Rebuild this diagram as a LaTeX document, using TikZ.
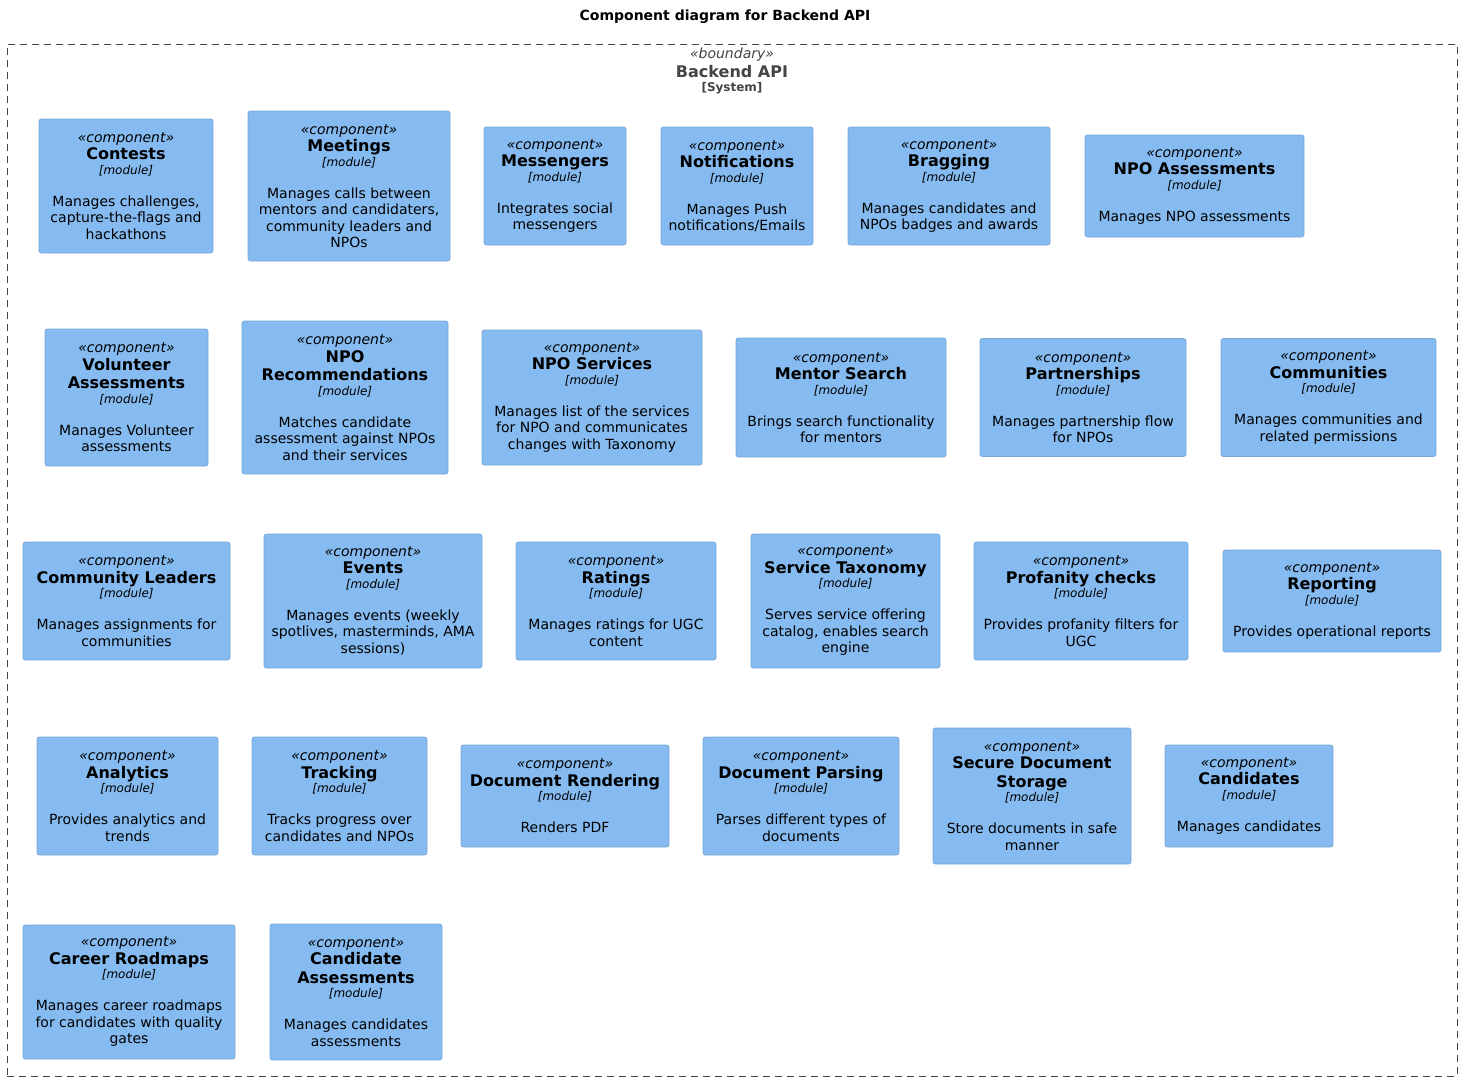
\documentclass[tikz,border=0pt]{standalone}
\usepackage{fontspec}
\setmainfont{DejaVu Sans}
\usetikzlibrary{positioning}

\definecolor{compfill}{HTML}{85BBF0}
\definecolor{compline}{HTML}{78A8D8}
\definecolor{boundgray}{HTML}{444444}

% fonts of the lines in a component box
\newcommand{\cstereo}{\fontsize{14}{16.5}\selectfont\itshape}
\newcommand{\cname}{\fontsize{16}{16.5}\selectfont\bfseries}
\newcommand{\cmodule}{\fontsize{12}{16.5}\selectfont\itshape}
% text of one component box: name, description
\newcommand{\comptext}[2]{\cstereo «component»\\[1pt]\cname #1\\[-2pt]\cmodule [module]\\[15.5pt]#2}

\begin{document}
\begin{tikzpicture}[
    x=1pt, y=-1pt,
    comp/.style={draw=compline, fill=compfill, rounded corners=2.5pt,
        align=center, inner sep=0pt, line width=0.8pt,
        font=\fontsize{14}{16.5}\selectfont},
    boundary/.style={draw=boundgray, dash pattern=on 7pt off 5pt, line width=0.9pt},
    boundlabel/.style={text=boundgray, align=center, inner sep=0pt,
        font=\fontsize{14}{16.5}\selectfont}
]
    \useasboundingbox (0,0) rectangle (1462,1081);

    \node[font=\fontsize{14}{16}\selectfont\bfseries] (title) at (725,17) {Component diagram for Backend API};

    \node[boundary, minimum width=1450, minimum height=1032] (api) at (732,560) {};
    \node[boundlabel] (apilabel) at (732,71) {%
        \itshape «boundary»\\[2pt]
        \fontsize{16}{16.5}\selectfont\bfseries Backend API\\[-2.5pt]
        \fontsize{12}{16}\selectfont\bfseries [System]};

    % first row
    \node[comp, minimum width=174, minimum height=134] (contests) at (126,186)
        {\comptext{Contests}{Manages challenges,\\capture-the-flags and\\hackathons}};
    \node[comp, minimum width=202, minimum height=150] (meetings) at (349,186)
        {\comptext{Meetings}{Manages calls between\\mentors and candidaters,\\community leaders and\\NPOs}};
    \node[comp, minimum width=142, minimum height=118] (messengers) at (555,186)
        {\comptext{Messengers}{Integrates social\\messengers}};
    \node[comp, minimum width=152, minimum height=118] (notifications) at (737,186)
        {\comptext{Notifications}{Manages Push\\notifications/Emails}};
    \node[comp, minimum width=202, minimum height=118] (bragging) at (949,186)
        {\comptext{Bragging}{Manages candidates and\\NPOs badges and awards}};
    \node[comp, minimum width=219, minimum height=102] (npoassessments) at (1194.5,186)
        {\comptext{NPO Assessments}{Manages NPO assessments}};

    % second row
    \node[comp, minimum width=163, minimum height=137] (volunteer) at (126.5,397.5)
        {\comptext{Volunteer\\[2pt]\cname Assessments}{Manages Volunteer\\assessments}};
    \node[comp, minimum width=206, minimum height=153] (recommendations) at (345,397.5)
        {\comptext{NPO\\[2pt]\cname Recommendations}{Matches candidate\\assessment against NPOs\\and their services}};
    \node[comp, minimum width=220, minimum height=135] (nposervices) at (592,397.5)
        {\comptext{NPO Services}{Manages list of the services\\for NPO and communicates\\changes with Taxonomy}};
    \node[comp, minimum width=210, minimum height=119] (mentorsearch) at (841,397.5)
        {\comptext{Mentor Search}{Brings search functionality\\for mentors}};
    \node[comp, minimum width=206, minimum height=118] (partnerships) at (1083,397.5)
        {\comptext{Partnerships}{Manages partnership flow\\for NPOs}};
    \node[comp, minimum width=215, minimum height=118] (communities) at (1328.5,397.5)
        {\comptext{Communities}{Manages communities and\\related permissions}};

    % third row
    \node[comp, minimum width=207, minimum height=118] (leaders) at (126.5,601)
        {\comptext{Community Leaders}{Manages assignments for\\communities}};
    \node[comp, minimum width=218, minimum height=134] (events) at (373,601)
        {\comptext{Events}{Manages events (weekly\\spotlives, masterminds, AMA\\sessions)}};
    \node[comp, minimum width=200, minimum height=118] (ratings) at (616,601)
        {\comptext{Ratings}{Manages ratings for UGC\\content}};
    \node[comp, minimum width=189, minimum height=134] (taxonomy) at (845.5,601)
        {\comptext{Service Taxonomy}{Serves service offering\\catalog, enables search\\engine}};
    \node[comp, minimum width=214, minimum height=118] (profanity) at (1081,601)
        {\comptext{Profanity checks}{Provides profanity filters for\\UGC}};
    \node[comp, minimum width=218, minimum height=102] (reporting) at (1332,601)
        {\comptext{Reporting}{Provides operational reports}};

    % fourth row
    \node[comp, minimum width=181, minimum height=118] (analytics) at (127.5,796)
        {\comptext{Analytics}{Provides analytics and\\trends}};
    \node[comp, minimum width=175, minimum height=118] (tracking) at (339.5,796)
        {\comptext{Tracking}{Tracks progress over\\candidates and NPOs}};
    \node[comp, minimum width=208, minimum height=102] (rendering) at (565,796)
        {\comptext{Document Rendering}{Renders PDF}};
    \node[comp, minimum width=196, minimum height=118] (parsing) at (801,796)
        {\comptext{Document Parsing}{Parses different types of\\documents}};
    \node[comp, minimum width=198, minimum height=136] (storage) at (1032,796)
        {\comptext{Secure Document\\[2pt]\cname Storage}{Store documents in safe\\manner}};
    \node[comp, minimum width=168, minimum height=102] (candidates) at (1249,796)
        {\comptext{Candidates}{Manages candidates}};

    % fifth row
    \node[comp, minimum width=212, minimum height=134] (roadmaps) at (129,992)
        {\comptext{Career Roadmaps}{Manages career roadmaps\\for candidates with quality\\gates}};
    \node[comp, minimum width=172, minimum height=136] (candassessments) at (356,992)
        {\comptext{Candidate\\[2pt]\cname Assessments}{Manages candidates\\assessments}};
\end{tikzpicture}
\end{document}
